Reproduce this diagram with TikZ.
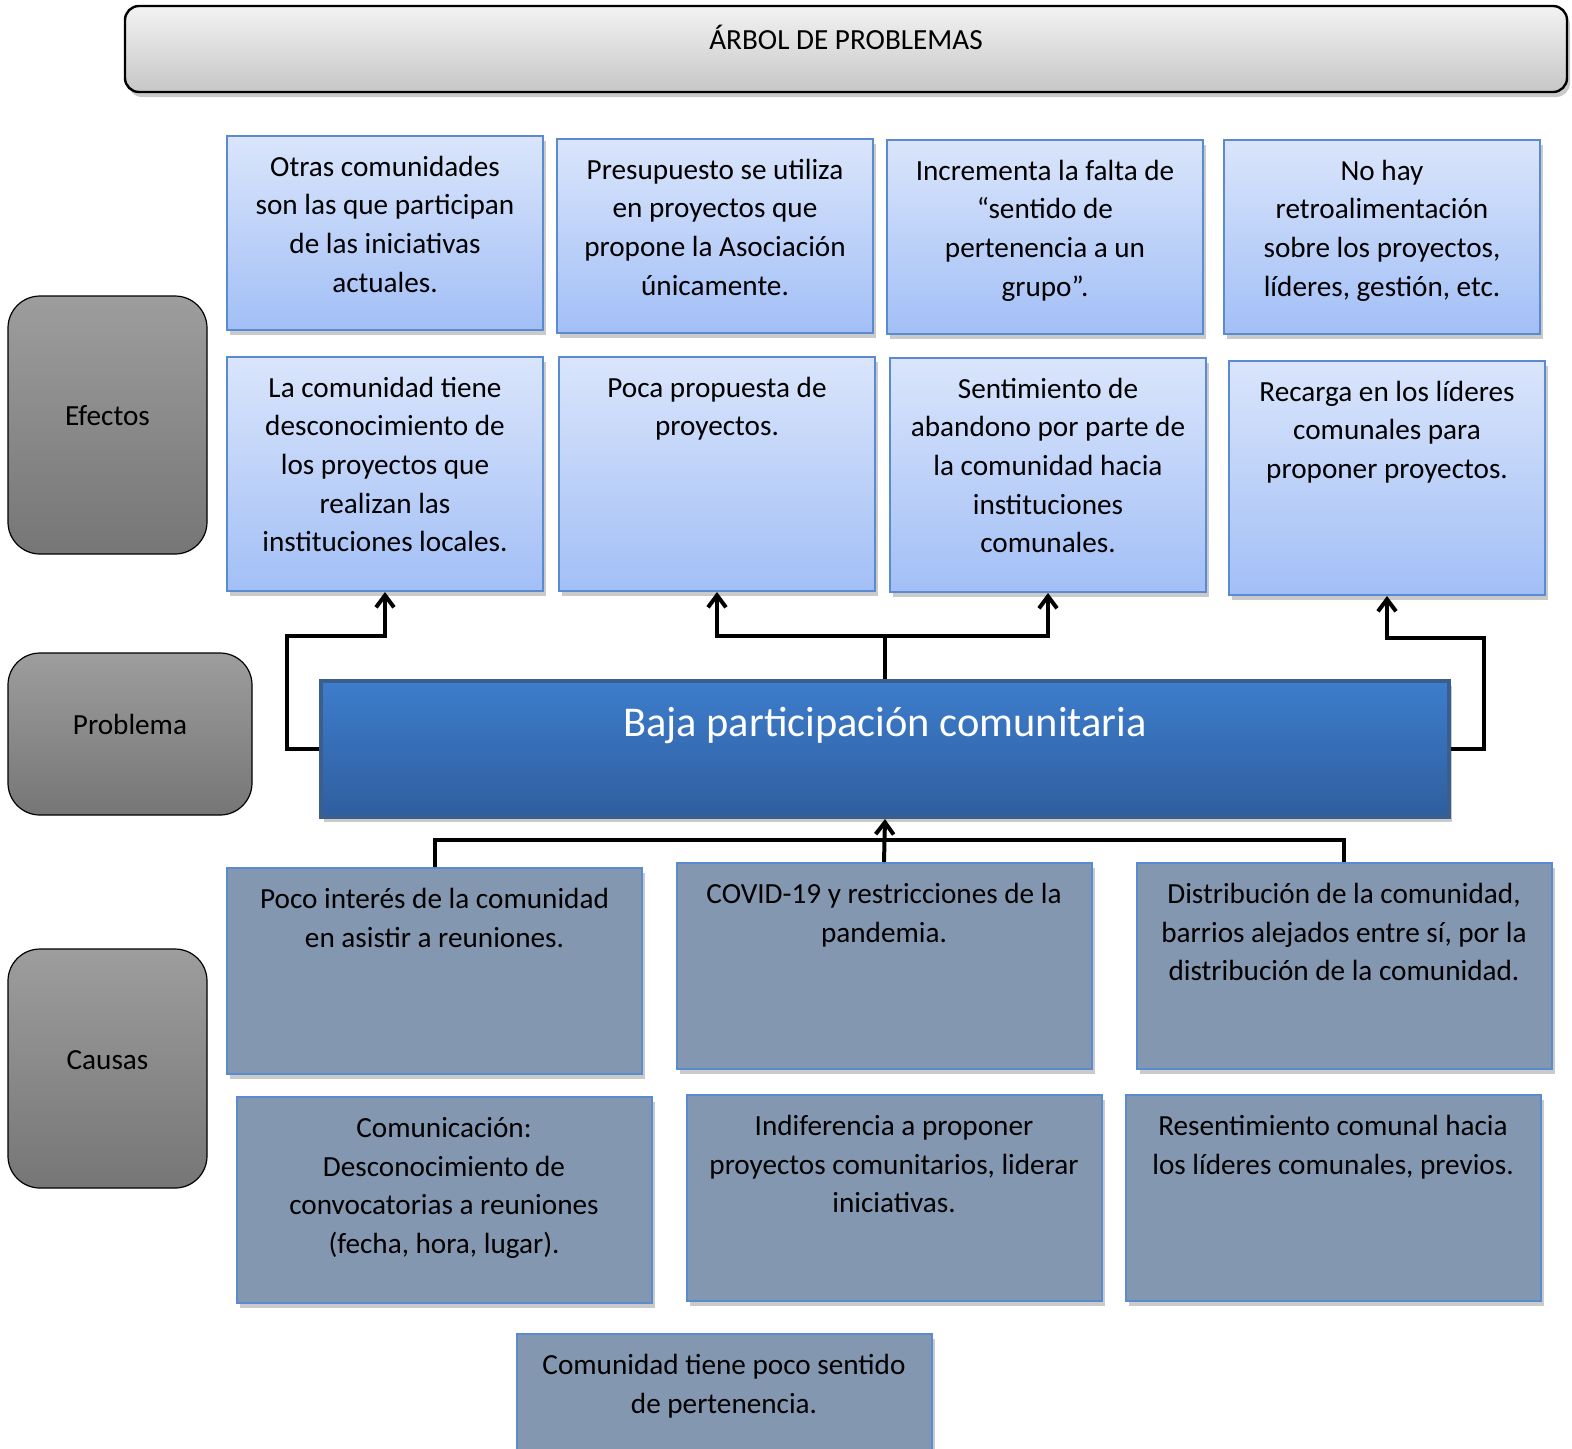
\documentclass[tikz,border=0pt]{standalone}
\usepackage{fontspec}
\setmainfont{Carlito}
\usepackage{tikz}
\usetikzlibrary{arrows.meta}
\usetikzlibrary{shadows}
\definecolor{efftop}{HTML}{DAE5FB}
\definecolor{effbot}{HTML}{A2BFF6}
\definecolor{boxline}{HTML}{5A8AD0}
\definecolor{causefill}{HTML}{8497B0}
\definecolor{graytop}{HTML}{9D9D9D}
\definecolor{graybot}{HTML}{767676}
\definecolor{probtop}{HTML}{3D7DCC}
\definecolor{probbot}{HTML}{2F5E9E}
\definecolor{probline}{HTML}{3A5F8F}
\tikzstyle{shad}=[drop shadow={shadow xshift=1.5pt, shadow yshift=-2.5pt, opacity=0.35, fill=black!60}]
\tikzstyle{txt}=[font=\fontsize{14.6pt}{19.3pt}\selectfont, align=flush center]
\tikzstyle{efbox}=[txt, shad, draw=boxline, line width=1pt, top color=efftop, bottom color=effbot, minimum width=158pt, text width=150pt, inner xsep=4pt, inner ysep=4pt, text height=16.1pt]
\tikzstyle{cabox}=[txt, shad, draw=boxline, line width=1pt, fill=causefill, minimum width=207.5pt, text width=199.5pt, inner xsep=4pt, inner ysep=4pt, text height=16.3pt, text depth=78.7pt]
\tikzstyle{side}=[txt, draw=black, line width=0.6pt, rounded corners=16pt, top color=graytop, bottom color=graybot, text height=10pt, text depth=9.2pt]
\tikzstyle{link}=[line width=2pt, black]
\tikzstyle{arr}=[link, -{Straight Barb[length=6pt, width=9pt]}]

\begin{document}
\begin{tikzpicture}[x=0.5pt, y=-0.5pt]
\useasboundingbox (0,0) rectangle (1572,1448);
% title
\node [txt, shad, draw=black, line width=1.2pt, rounded corners=7pt, top color=white!95!black, bottom color=black!22, minimum width=721pt, inner ysep=0pt, text height=21.7pt, text depth=21.3pt] (title) at (846,49) {ÁRBOL DE PROBLEMAS};
% left labels
\node [side, minimum width=99.5pt, minimum height=129pt] (efectos) at (107.5,425) {Efectos};
\node [side, minimum width=122pt, minimum height=81pt] (problema) at (130,734) {Problema};
\node [side, minimum width=99.5pt, minimum height=119.5pt] (causas) at (107.5,1068.5) {Causas};
% effects
\node [efbox, text depth=72.9pt] (e1) at (385,233) {Otras comunidades\\son las que participan\\de las iniciativas\\actuales.};
\node [efbox, text depth=72.9pt] (e2) at (715,236) {Presupuesto se utiliza\\en proyectos que\\propone la Asociación\\únicamente.};
\node [efbox, text depth=72.9pt] (e3) at (1045,237) {Incrementa la falta de\\“sentido de\\pertenencia a un\\grupo”.};
\node [efbox, text depth=72.9pt] (e4) at (1382,237) {No hay\\retroalimentación\\sobre los proyectos,\\líderes, gestión, etc.};
\node [efbox, text depth=92.9pt] (e5) at (385,474) {La comunidad tiene\\desconocimiento de\\los proyectos que\\realizan las\\instituciones locales.};
\node [efbox, text depth=92.9pt] (e6) at (717,474) {Poca propuesta de\\proyectos.};
\node [efbox, text depth=92.9pt] (e7) at (1048,475) {Sentimiento de\\abandono por parte de\\la comunidad hacia\\instituciones\\comunales.};
\node [efbox, text depth=92.9pt] (e8) at (1387,478) {Recarga en los líderes\\comunales para\\proponer proyectos.};
% problem
\node [shad, draw=probline, line width=2pt, top color=probtop, bottom color=probbot, minimum width=564pt, inner ysep=0pt, text height=27.9pt, text depth=40.1pt, text=white, font=\fontsize{21.2pt}{26pt}\selectfont] (p) at (885,749) {Baja participación comunitaria};
% causes
\node [cabox] (c1) at (434.5,971) {Poco interés de la comunidad\\en asistir a reuniones.};
\node [cabox] (c2) at (884,966) {COVID-19 y restricciones de la\\pandemia.};
\node [cabox] (c3) at (1344,966) {Distribución de la comunidad,\\barrios alejados entre sí, por la\\distribución de la comunidad.};
\node [cabox] (c4) at (444,1200) {Comunicación:\\Desconocimiento de\\convocatorias a reuniones\\(fecha, hora, lugar).};
\node [cabox] (c5) at (894,1198) {Indiferencia a proponer\\proyectos comunitarios, liderar\\iniciativas.};
\node [cabox] (c6) at (1333,1198) {Resentimiento comunal hacia\\los líderes comunales, previos.};
\node [cabox] (c7) at (724,1437) {Comunidad tiene poco sentido\\de pertenencia.};
% connectors
\coordinate (up) at (885,636);
\coordinate (low) at (885,840);
\draw [arr] (p.west) -| (287,636) -| (e5.south);
\draw [link] (p.north) -- (up);
\draw [arr] (up) -| (e6.south);
\draw [arr] (up) -| (e7.south);
\draw [arr] (p.east) -| (1484,638) -| (e8.south);
\draw [link] (c1.north) |- (low);
\draw [link] (c3.north) |- (low);
\draw [arr] (c2.north) -- (p.south);
\end{tikzpicture}
\end{document}
